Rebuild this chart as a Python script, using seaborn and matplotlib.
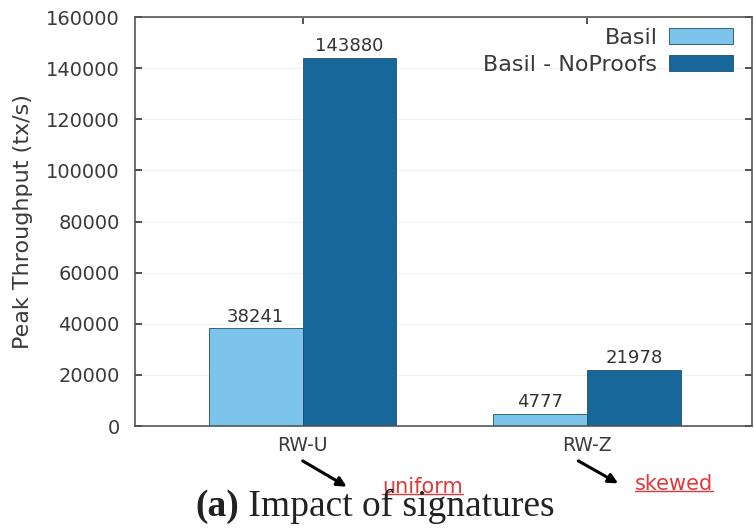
import matplotlib
matplotlib.use("Agg")
import matplotlib.pyplot as plt
import seaborn as sns
import pandas as pd

workloads = ["RW-U", "RW-Z"]
systems = ["Basil", "Basil - NoProofs"]
basil = [38241, 4777]
noproofs = [143880, 21978]
yticks = [0, 20000, 40000, 60000, 80000, 100000, 120000, 140000, 160000]
notes = ["uniform", "skewed"]

df = pd.DataFrame({
    "workload": workloads * 2,
    "system": [systems[0]] * 2 + [systems[1]] * 2,
    "throughput": basil + noproofs,
})

sns.set_theme(style="white")
plt.rcParams["font.family"] = ["DejaVu Sans"]

fig = plt.figure(figsize=(7.54, 5.32), dpi=100)
ax = fig.add_axes([0.179, 0.199, 0.818, 0.769])

palette = {systems[0]: "#7cc4ec", systems[1]: "#17679a"}
sns.barplot(data=df, x="workload", y="throughput", hue="system",
            palette=palette, width=0.66, saturation=1, ax=ax,
            edgecolor="#1d4f6e", linewidth=0.6)

for cont in ax.containers:
    ax.bar_label(cont, labels=[f"{int(v)}" for v in cont.datavalues],
                 padding=2, fontsize=13, color="#333333")

ax.set_xlim(-0.59, 1.58)
ax.set_ylim(0, 160000)
ax.set_yticks(yticks)
ax.set_yticklabels([str(t) for t in yticks])
ax.yaxis.grid(True, color="#f0f0f0", linewidth=0.8)
ax.set_axisbelow(True)
ax.set_xlabel("")
ax.set_ylabel("Peak Throughput (tx/s)", fontsize=16, color="#3a3a3a", labelpad=9)
ax.tick_params(axis="y", labelsize=14, colors="#3a3a3a", length=5,
               direction="in", right=True, left=True, pad=11)
ax.tick_params(axis="x", labelsize=13.5, colors="#3a3a3a", length=5,
               direction="in", top=True, bottom=False, pad=7)
for s in ax.spines.values():
    s.set_color("#555555")
    s.set_linewidth(1.2)

leg = ax.legend(loc="upper right", bbox_to_anchor=(0.984, 0.995),
                frameon=False, markerfirst=False,
                fontsize=16, handlelength=2.9, handleheight=0.75,
                labelspacing=0.3, borderaxespad=0.0, handletextpad=0.5)
for t in leg.get_texts():
    t.set_color("#3a3a3a")

# arrows from the workload labels to the distribution notes
tr = ax.get_xaxis_transform()
arrow_specs = [((0.0, -0.085), (0.155, -0.148), (0.28, -0.15)),
               ((0.97, -0.085), (1.11, -0.14), (1.168, -0.142))]
for (start, end, txt), note in zip(arrow_specs, notes):
    ax.annotate("", xy=end, xytext=start, xycoords=tr, textcoords=tr,
                arrowprops=dict(arrowstyle="-|>", color="black", lw=2.2,
                                mutation_scale=14, shrinkA=0, shrinkB=0),
                annotation_clip=False)
    ax.text(txt[0], txt[1], note, transform=tr, color="#e0393b",
            fontsize=15, ha="left", va="center", clip_on=False)

fig.canvas.draw()
renderer = fig.canvas.get_renderer()
for t in ax.texts:
    if t.get_text() in notes:
        bb = t.get_window_extent(renderer).transformed(fig.transFigure.inverted())
        fig.add_artist(plt.Line2D([bb.x0, bb.x1], [bb.y0 + 0.006, bb.y0 + 0.006],
                                  transform=fig.transFigure, color="#e0393b", lw=1))

title_a = fig.text(0.259, 0.048, "(a)", fontsize=27, fontweight="bold",
                   family=["Liberation Serif"], ha="left", va="center", color="#222222")
fig.canvas.draw()
bb = title_a.get_window_extent(renderer).transformed(fig.transFigure.inverted())
fig.text(bb.x1, 0.048, " Impact of signatures", fontsize=27,
         family=["Liberation Serif"], ha="left", va="center", color="#222222")

fig.savefig("out.png", dpi=100)
